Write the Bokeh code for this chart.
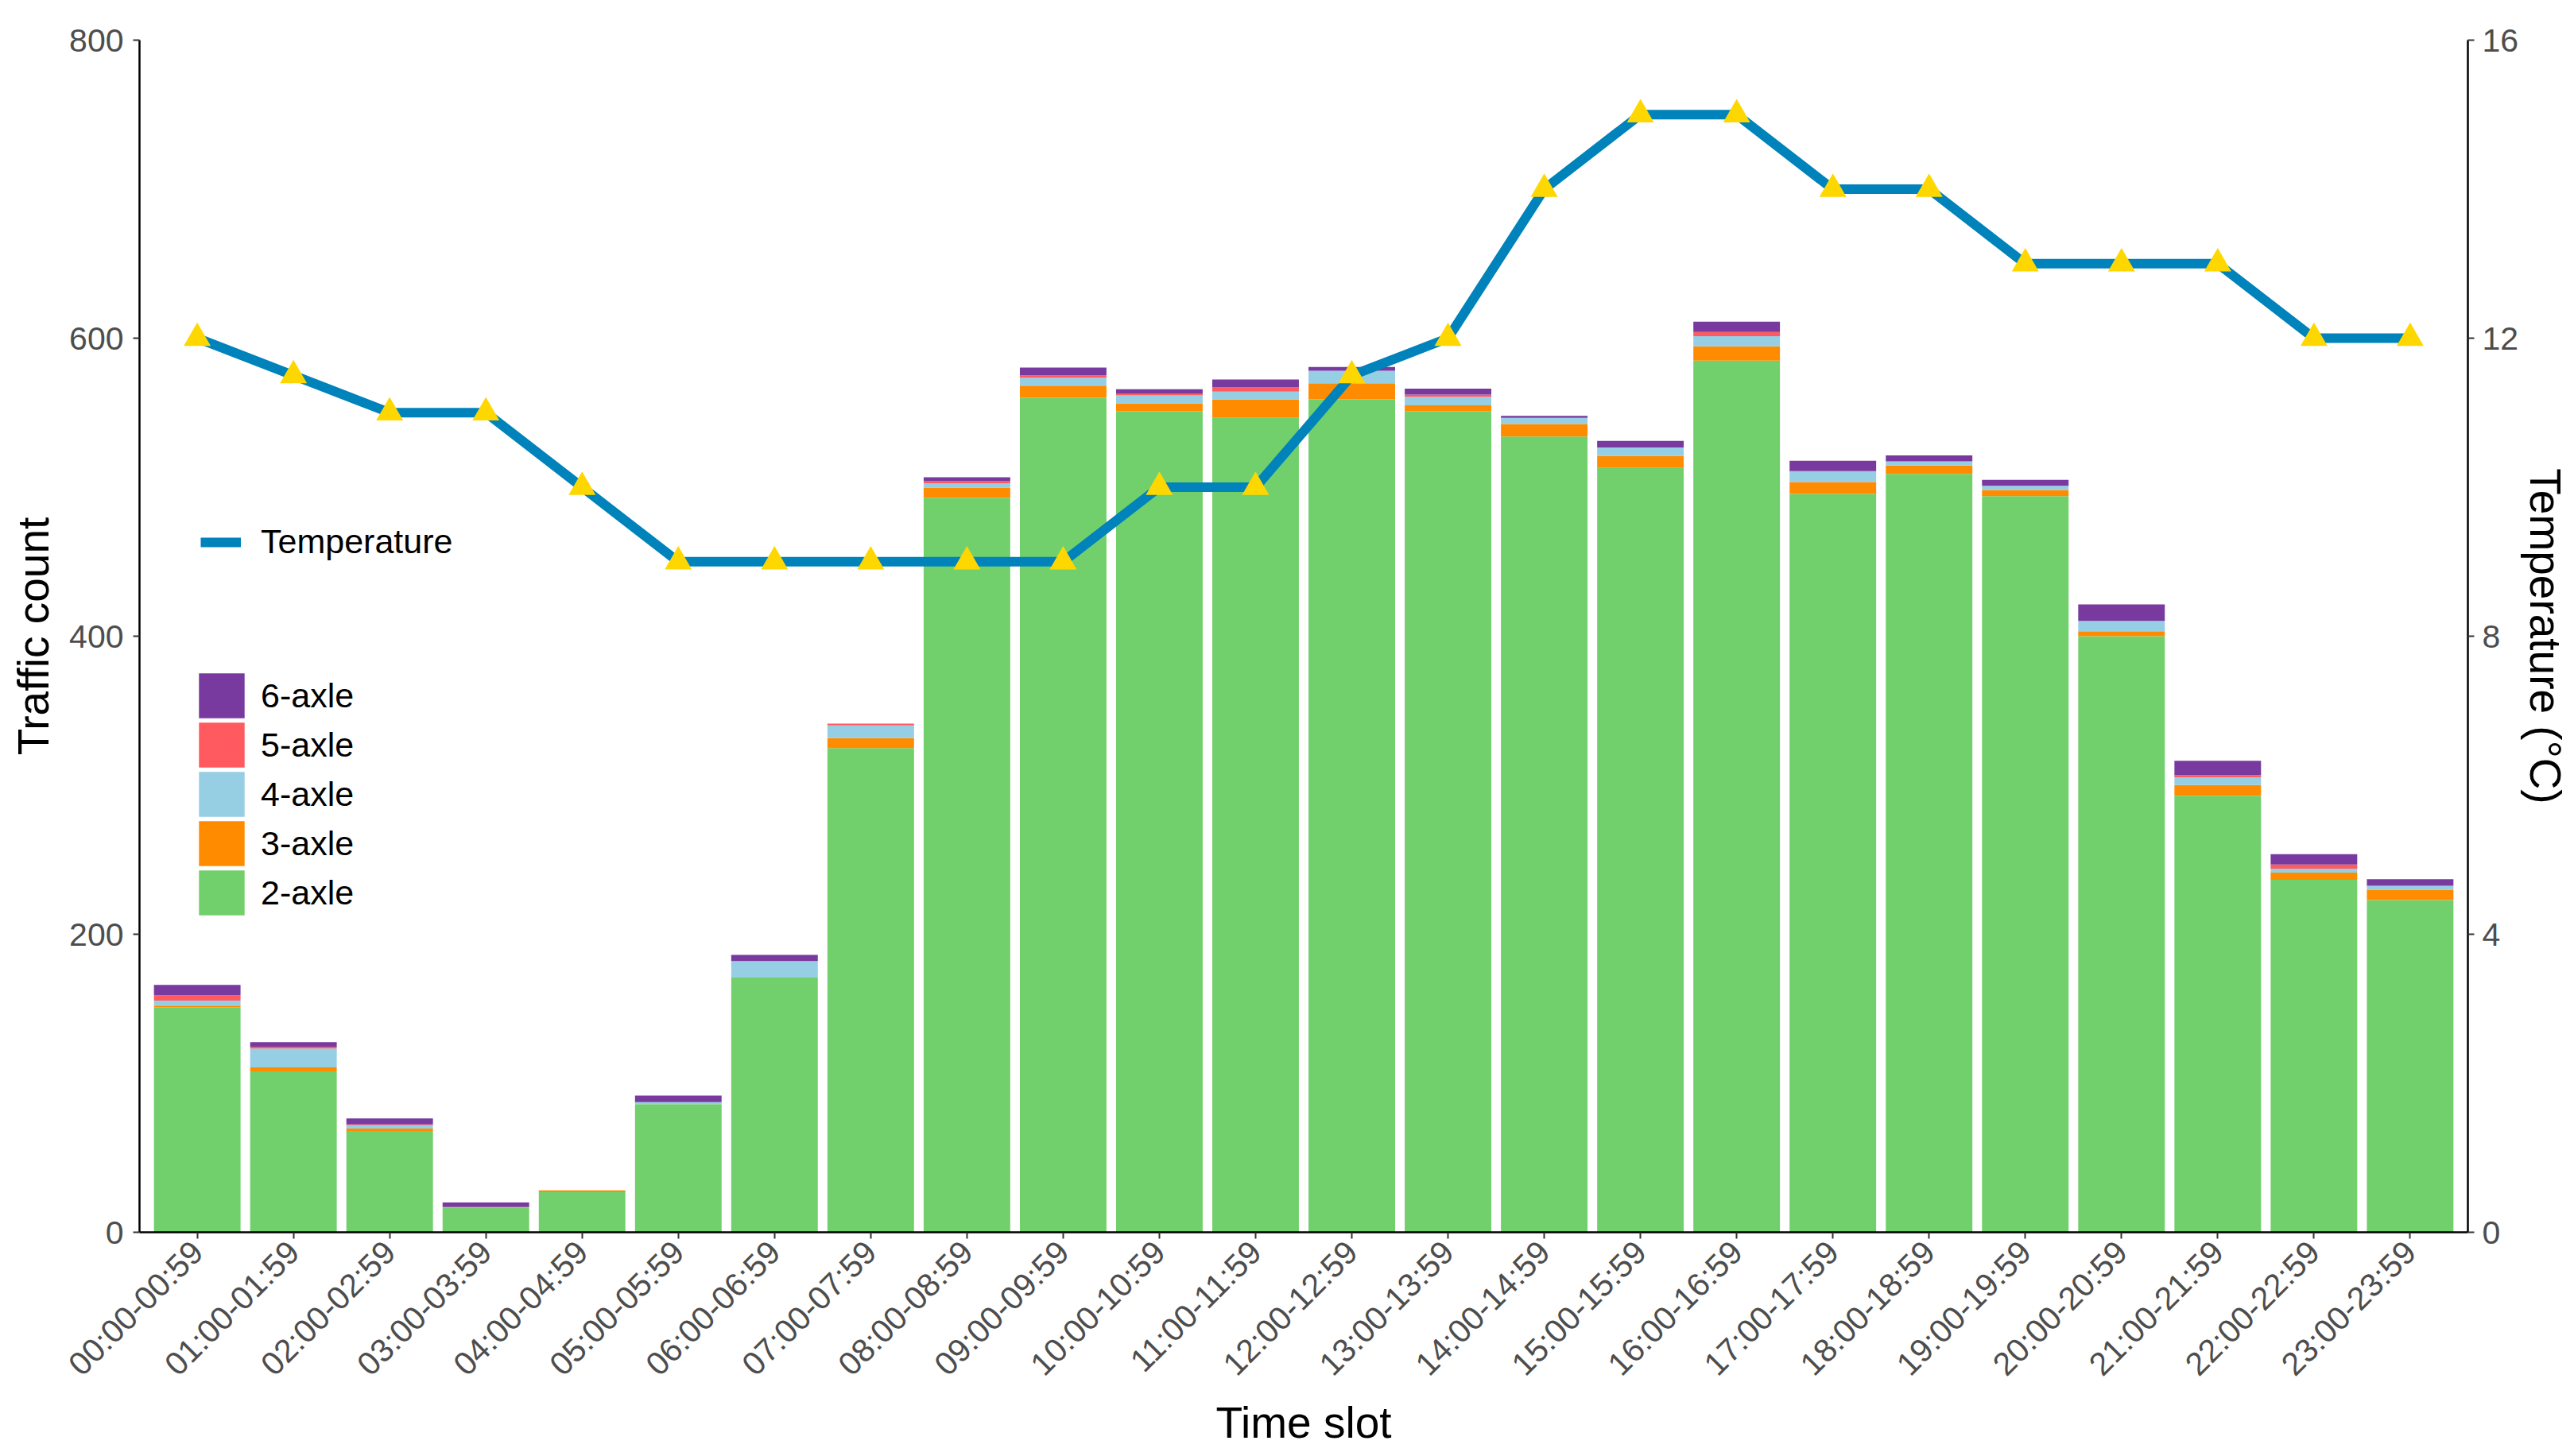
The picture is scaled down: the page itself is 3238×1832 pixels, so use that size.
import math
from bokeh.plotting import figure
from bokeh.models import (ColumnDataSource, Range1d, LinearAxis, FixedTicker,
                          Legend, LegendItem)
from bokeh.embed import file_html
from bokeh.resources import INLINE

# ---------------- data ----------------
time_slots = ["00:00-00:59", "01:00-01:59", "02:00-02:59", "03:00-03:59",
              "04:00-04:59", "05:00-05:59", "06:00-06:59", "07:00-07:59",
              "08:00-08:59", "09:00-09:59", "10:00-10:59", "11:00-11:59",
              "12:00-12:59", "13:00-13:59", "14:00-14:59", "15:00-15:59",
              "16:00-16:59", "17:00-17:59", "18:00-18:59", "19:00-19:59",
              "20:00-20:59", "21:00-21:59", "22:00-22:59", "23:00-23:59"]

axle2 = [151, 108, 68, 16.5, 27, 86, 171, 325, 493, 560, 551, 546.5,
         559, 551, 534, 513, 585, 495.5, 509, 494, 400, 293, 236.5, 223]
axle3 = [1.2, 2.7, 1.6, 0.5, 1.2, 0, 0, 6.6, 6.8, 8.2, 5.3, 12.4,
         10.8, 4, 8.4, 8, 9.6, 8, 5.5, 4.1, 3.4, 7.1, 4.8, 6.9]
axle4 = [3.3, 12.6, 2.3, 0, 0, 1.4, 11, 8.5, 2.8, 5.3, 5.3, 5.3,
         8.4, 5.7, 4.1, 5.7, 6.8, 7, 2.8, 2.8, 6.9, 5.3, 2.7, 2.7]
axle5 = [3.6, 1.3, 0.5, 0, 0, 0, 0, 1.2, 1.4, 1.6, 1.4, 2.8,
         0, 1.4, 0, 0, 2.8, 0.3, 0, 0, 0, 1.4, 2.8, 0]
axle6 = [6.9, 3, 4, 3, 0, 4.4, 4.1, 0, 2.7, 5.2, 2.8, 5.3,
         2.5, 4, 1.4, 4.4, 6.9, 7, 4, 4.1, 11, 9.6, 6.9, 4.3]

temperature = [12, 11.5, 11, 11, 10, 9, 9, 9, 9, 9, 10, 10,
               11.5, 12, 14, 15, 15, 14, 14, 13, 13, 13, 12, 12]

axle_names = ["2-axle", "3-axle", "4-axle", "5-axle", "6-axle"]
axle_fields = ["a2", "a3", "a4", "a5", "a6"]
axle_colors = ["#71D06C", "#FF8C00", "#96CEE3", "#FF5A5F", "#783A9E"]

y_ticks = [0, 200, 400, 600, 800]
temp_ticks = [0, 4, 8, 12, 16]

# ---------------- figure ----------------
FONT = "Liberation Sans"
idx = list(range(len(time_slots)))
src = ColumnDataSource(dict(x=idx, a2=axle2, a3=axle3, a4=axle4, a5=axle5,
                            a6=axle6, temp=temperature))

p = figure(width=3238, height=1832, output_backend="svg", toolbar_location=None,
           x_range=Range1d(-0.6, len(time_slots) - 0.4), y_range=Range1d(0, 800),
           min_border_left=175, min_border_right=134, min_border_top=50,
           min_border_bottom=282)
p.extra_y_ranges = {"temp": Range1d(0, 16)}
p.outline_line_color = None
p.xgrid.visible = False
p.ygrid.visible = False
p.background_fill_color = "white"

bars = p.vbar_stack(axle_fields, x="x", width=0.9,
                    color=axle_colors, line_color=None, source=src)

temp_line = p.line(x="x", y="temp", y_range_name="temp", source=src,
                   line_color="#0083BA", line_width=12)
p.scatter(x="x", y="temp", y_range_name="temp", source=src, marker="triangle",
          size=34, fill_color="#FFD700", line_color=None)

right_axis = LinearAxis(y_range_name="temp", axis_label="Temperature (°C)")
p.add_layout(right_axis, "right")


def style_axis(ax):
    ax.axis_line_color = "black"
    ax.axis_line_width = 2.5
    ax.major_tick_line_color = "#333333"
    ax.major_tick_line_width = 2
    ax.major_tick_out = 8
    ax.major_tick_in = 0
    ax.minor_tick_line_color = None
    ax.major_label_text_font = FONT
    ax.major_label_text_font_size = "41px"
    ax.major_label_text_color = "#4D4D4D"
    ax.axis_label_text_font = FONT
    ax.axis_label_text_font_size = "55px"
    ax.axis_label_text_font_style = "normal"
    ax.axis_label_text_color = "black"


xaxis = p.xaxis[0]
yaxis = p.yaxis[0]
for ax in (xaxis, yaxis, right_axis):
    style_axis(ax)

yaxis.ticker = FixedTicker(ticks=y_ticks)
yaxis.axis_label = "Traffic count"
yaxis.major_label_standoff = 12
yaxis.axis_label_standoff = 11

right_axis.ticker = FixedTicker(ticks=temp_ticks)
right_axis.major_label_standoff = 10
right_axis.axis_label_standoff = 0

xaxis.ticker = FixedTicker(ticks=idx)
xaxis.major_label_overrides = {i: s for i, s in zip(idx, time_slots)}
xaxis.major_label_orientation = math.pi / 4
xaxis.major_label_standoff = 10
xaxis.axis_label = "Time slot"
xaxis.axis_label_standoff = 0

# ---------------- legends ----------------
leg_temp = Legend(items=[LegendItem(label="Temperature", renderers=[temp_line])],
                  location=(77, 844), glyph_width=51, glyph_height=48,
                  label_standoff=25, padding=0, margin=0,
                  border_line_color=None, background_fill_alpha=0,
                  label_text_font=FONT, label_text_font_size="43px",
                  label_text_color="black")
p.add_layout(leg_temp, "center")

# legend keys: hidden copies of the bar series, outlined so the key squares
# are drawn at full size (the hidden renderers draw nothing in the plot)
key_renderers = [p.vbar(x="x", top=f, source=src, width=0.9, fill_color=c,
                        line_color=c, line_width=7, line_join="miter",
                        visible=False)
                 for f, c in zip(axle_fields, axle_colors)]
axle_items = [LegendItem(label=n, renderers=[r])
              for n, r in zip(axle_names, key_renderers)][::-1]
leg_axle = Legend(items=axle_items, location=(72, 396), glyph_width=63,
                  glyph_height=62, spacing=0, label_standoff=18, padding=0,
                  margin=0, border_line_color=None, background_fill_alpha=0,
                  inactive_fill_alpha=0,
                  label_text_font=FONT, label_text_font_size="43px",
                  label_text_color="black")
p.add_layout(leg_axle, "center")

open("out.html", "w").write(file_html(p, INLINE))
